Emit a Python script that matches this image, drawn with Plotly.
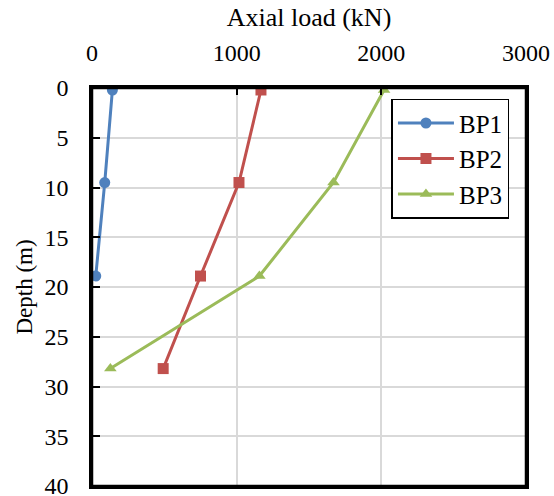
import plotly.graph_objects as go

depth_bp1 = [0.2, 9.5, 18.9]
load_bp1 = [141, 88, 26]

depth_bp2 = [0.2, 9.5, 18.9, 28.2]
load_bp2 = [1168, 1016, 750, 492]

depth_bp3 = [0.2, 9.5, 18.9, 28.2]
load_bp3 = [2019, 1669, 1157, 127]

names = ["BP1", "BP2", "BP3"]
colors = ["#4F81BD", "#C0504D", "#9BBB59"]
symbols = ["circle", "square", "triangle-up"]

x_ticks = [0, 1000, 2000, 3000]
y_ticks = [0, 5, 10, 15, 20, 25, 30, 35, 40]

FONT = "Liberation Serif, Times New Roman, serif"
FS = 24

fig = go.Figure()
for name, xs, ys, c, s in zip(names, [load_bp1, load_bp2, load_bp3],
                              [depth_bp1, depth_bp2, depth_bp3], colors, symbols):
    fig.add_trace(go.Scatter(
        x=xs, y=ys, name=name, mode="lines+markers", legendgroup=name,
        line=dict(color=c, width=3),
        marker=dict(symbol=s, size=11, color=c),
    ))

# plot-area frame
fig.add_shape(type="rect", xref="paper", yref="paper", x0=0, y0=0, x1=1, y1=1,
              line=dict(color="#000000", width=2.5), layer="above")

fig.update_layout(
    width=554, height=496,
    margin=dict(l=92, r=28, t=88, b=10),
    paper_bgcolor="white", plot_bgcolor="white",
    font=dict(family=FONT, size=FS, color="black"),
    showlegend=True,
    legend=dict(
        x=0.69, y=0.973, xanchor="left", yanchor="top",
        bordercolor="black", borderwidth=1.5, bgcolor="white",
        font=dict(family=FONT, size=25, color="black"),
        itemwidth=56, tracegroupgap=2, traceorder="normal",
    ),
    xaxis=dict(
        side="top", range=[0, 3000], tickvals=x_ticks,
        tickfont=dict(family=FONT, size=FS, color="black"),
        showgrid=True, gridcolor="#d9d9d9", gridwidth=1.5,
        showline=True, linecolor="#000000", linewidth=2.5, mirror=True,
        ticks="inside", ticklen=7, tickwidth=2, tickcolor="#000000",
        ticklabelstandoff=15, ticklabeloverflow="allow", zeroline=False,
        layer="above traces",
        title=dict(text="Axial load (kN)", standoff=6,
                   font=dict(family=FONT, size=26, color="black")),
        automargin=False,
    ),
    yaxis=dict(
        range=[40, 0], tickvals=y_ticks,
        tickfont=dict(family=FONT, size=FS, color="black"),
        showgrid=True, gridcolor="#d9d9d9", gridwidth=1.5,
        showline=True, linecolor="#000000", linewidth=2.5, mirror=True,
        ticks="inside", ticklen=8, tickwidth=2, tickcolor="#000000",
        ticklabelstandoff=16, ticklabeloverflow="allow", zeroline=False,
        layer="above traces",
        title=dict(text="Depth (m)", standoff=6,
                   font=dict(family=FONT, size=23, color="black")),
        automargin=False,
    ),
)

fig.write_html("out.html", config={"displayModeBar": False},
               post_script="document.body.style.margin='0';")
